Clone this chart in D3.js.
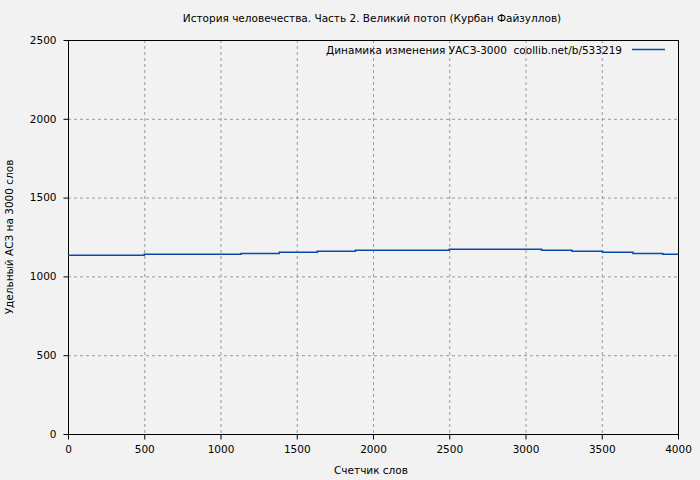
<!DOCTYPE html>
<html><head><meta charset="utf-8">
<script src="https://cdn.jsdelivr.net/npm/d3@7"></script>
<style>
html,body{margin:0;padding:0;background:#f2f2f2;}
text{font-family:"DejaVu Sans",Verdana,sans-serif;fill:#000;}
</style></head>
<body>
<svg id="c" width="700" height="480"></svg>
<script>
const title = "История человечества. Часть 2. Великий потоп (Курбан Файзуллов)";
const xLabel = "Счетчик слов";
const yLabel = "Удельный АСЗ на 3000 слов";
const legendLabel = "Динамика изменения УАСЗ-3000  coollib.net/b/533219";
const stepX = [0, 500, 1135, 1385, 1635, 1885, 2500, 3105, 3305, 3505, 3705, 3900, 4000];
const stepY = [1134, 1140, 1146, 1153, 1159, 1166, 1172, 1166, 1159, 1153, 1146, 1140, 1140];
const xTicks = [0, 500, 1000, 1500, 2000, 2500, 3000, 3500, 4000];
const yTicks = [0, 500, 1000, 1500, 2000, 2500];

const FS = "10.5px";
const svg = d3.select("#c");
const m = {l:68, r:678, t:40, b:434};
const x = d3.scaleLinear().domain([0,4000]).range([m.l, m.r]);
const y = d3.scaleLinear().domain([0,2500]).range([m.b, m.t]);

svg.append("rect").attr("width",700).attr("height",480).attr("fill","#f2f2f2");

// grid
const g = svg.append("g");
g.selectAll(".gx").data(xTicks.slice(1,-1)).enter().append("line")
  .attr("x1",d=>x(d)+0.5).attr("x2",d=>x(d)+0.5).attr("y1",m.t).attr("y2",m.b)
  .attr("stroke","#999").attr("stroke-dasharray","3,3");
g.selectAll(".gy").data(yTicks.slice(0,-1)).enter().append("line")
  .attr("x1",m.l).attr("x2",m.r).attr("y1",d=>y(d)+0.5).attr("y2",d=>y(d)+0.5)
  .attr("stroke","#999").attr("stroke-dasharray","3,3");

// axes
const xAxis = d3.axisBottom(x).tickValues(xTicks).tickSize(5).tickPadding(6).tickFormat(d3.format("d"));
const yAxis = d3.axisLeft(y).tickValues(yTicks).tickSize(5).tickPadding(7).tickFormat(d3.format("d"));
const ax = svg.append("g").attr("transform",`translate(0,${m.b+0.5})`).call(xAxis);
const ay = svg.append("g").attr("transform",`translate(${m.l+0.5},0)`).call(yAxis);
[ax,ay].forEach(a=>{
  a.select(".domain").remove();
  a.selectAll("line").attr("stroke","#000");
  a.selectAll("text").style("font-size",FS).style("font-family","'DejaVu Sans',Verdana,sans-serif");
});

// frame
svg.append("rect").attr("x",m.l+0.5).attr("y",m.t+0.5).attr("width",m.r-m.l).attr("height",m.b-m.t)
  .attr("fill","none").attr("stroke","#000");

// line
const pts = stepX.map((d,i)=>[d, stepY[i]]);
const line = d3.line().x(d=>x(d[0])).y(d=>y(d[1])).curve(d3.curveStepAfter);
svg.append("path").datum(pts).attr("d",line).attr("fill","none")
  .attr("stroke","#0a4aad").attr("stroke-width",1.5);

// legend
svg.append("text").attr("x",622).attr("y",54).attr("text-anchor","end")
  .style("font-size",FS).style("white-space","pre").text(legendLabel);
svg.append("line").attr("x1",632).attr("x2",665).attr("y1",49.5).attr("y2",49.5)
  .attr("stroke","#0a4aad").attr("stroke-width",1.5);

// title & labels
svg.append("text").attr("x",372).attr("y",22).attr("text-anchor","middle")
  .style("font-size",FS).text(title);
svg.append("text").attr("x",371).attr("y",474).attr("text-anchor","middle")
  .style("font-size",FS).text(xLabel);
svg.append("text").attr("transform","translate(13,237) rotate(-90)").attr("text-anchor","middle")
  .style("font-size",FS).text(yLabel);
</script>
</body></html>
